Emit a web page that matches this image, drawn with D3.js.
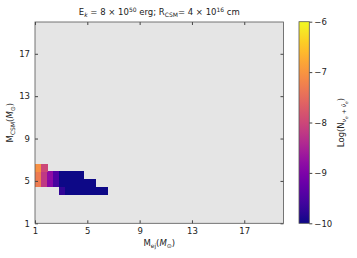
<!DOCTYPE html>
<html>
<head>
<meta charset="utf-8">
<script src="https://cdn.jsdelivr.net/npm/d3@7"></script>
<style>
  body { margin: 0; background: #fff; }
  text { font-family: "DejaVu Sans", sans-serif; fill: #222; }
</style>
</head>
<body>
<div id="chart"></div>
<script>
// cell edges (data units)
const mejEdges = [1, 1.46, 1.93, 2.39, 2.86, 3.32, 3.79, 4.25, 4.72, 5.18, 5.65, 6.11, 6.58];
const mcsmEdges = [3.74, 4.46, 5.18, 5.9, 6.62];   // bottom to top
// log10 counts per row (bottom row first), one value per column, null = no data
const logRows = [
    [null, null, null, null, -9.75, -10, -10, -10, -10, -10, -10, -10],
    [-7.3, -8.2, -8.9, -9.55, -10, -10, -10, -10, -10, -10, null, null],
    [-7.3, -8.2, -8.8, -9.45, -10, -10, -10, -10, null, null, null, null],
    [-7.05, -8.0, null, null, null, null, null, null, null, null, null, null]
];
const xTicks = [1, 5, 9, 13, 17];
const yTicks = [1, 5, 9, 13, 17];
const cbTicks = [-6, -7, -8, -9, -10];

const width = 357, height = 258;
const margin = {top: 22, left: 35, right: 73.5, bottom: 34.7};

const svg = d3.select("#chart").append("svg")
    .attr("width", width)
    .attr("height", height);

const xScale = d3.scaleLinear().domain([1, 20]).range([margin.left, width - margin.right]);
const yScale = d3.scaleLinear().domain([1, 20]).range([height - margin.bottom, margin.top]);
const colorScale = d3.scaleSequential(d3.interpolatePlasma).domain([-10, -6]);

// plot background
svg.append("rect")
    .attr("x", xScale(1)).attr("y", yScale(20))
    .attr("width", xScale(20) - xScale(1))
    .attr("height", yScale(1) - yScale(20))
    .attr("fill", "#e5e5e5");

// cells
const cells = [];
logRows.forEach(function(row, i) {
    row.forEach(function(v, j) {
        if (v !== null) cells.push({x0: mejEdges[j], x1: mejEdges[j+1], y0: mcsmEdges[i], y1: mcsmEdges[i+1], v: v});
    });
});
svg.selectAll("rect.cell")
    .data(cells)
    .enter()
    .append("rect")
        .attr("class", "cell")
        .attr("shape-rendering", "crispEdges")
        .attr("x", function(d) { return xScale(d.x0); })
        .attr("y", function(d) { return yScale(d.y1); })
        .attr("width", function(d) { return xScale(d.x1) - xScale(d.x0) + 0.5; })
        .attr("height", function(d) { return yScale(d.y0) - yScale(d.y1) + 0.5; })
        .attr("fill", function(d) { return colorScale(d.v); });

// axes, ticks pointing inward on all four sides
function styleAxis(g) {
    g.select(".domain").remove();
    g.selectAll(".tick line").attr("stroke", "#444");
    g.selectAll(".tick text").attr("font-size", 8.5).attr("fill", "#222");
}
svg.append("g")
    .attr("transform", `translate(0,${yScale(1)})`)
    .call(d3.axisBottom(xScale).tickValues(xTicks).tickSizeInner(-3).tickPadding(5))
    .call(styleAxis);
svg.append("g")
    .attr("transform", `translate(0,${yScale(20)})`)
    .call(d3.axisTop(xScale).tickValues(xTicks).tickSizeInner(-3).tickFormat(""))
    .call(styleAxis);
svg.append("g")
    .attr("transform", `translate(${xScale(1)},0)`)
    .call(d3.axisLeft(yScale).tickValues(yTicks).tickSizeInner(-3).tickPadding(5))
    .call(styleAxis);
svg.append("g")
    .attr("transform", `translate(${xScale(20)},0)`)
    .call(d3.axisRight(yScale).tickValues(yTicks).tickSizeInner(-3).tickFormat(""))
    .call(styleAxis);

// frame
svg.append("rect")
    .attr("x", xScale(1)).attr("y", yScale(20))
    .attr("width", xScale(20) - xScale(1))
    .attr("height", yScale(1) - yScale(20))
    .attr("fill", "none")
    .attr("stroke", "#555")
    .attr("stroke-width", 0.8);

// title
const title = svg.append("text")
    .attr("x", (xScale(1) + xScale(20)) / 2)
    .attr("y", 15)
    .attr("text-anchor", "middle")
    .attr("font-size", 8.5);
title.append("tspan").text("E");
title.append("tspan").attr("font-size", 6).attr("font-style", "italic").attr("dy", 2).text("k");
title.append("tspan").attr("dy", -2).text(" = 8 × 10");
title.append("tspan").attr("font-size", 6).attr("dy", -3.5).text("50");
title.append("tspan").attr("dy", 3.5).text(" erg; R");
title.append("tspan").attr("font-size", 6).attr("dy", 2).text("CSM");
title.append("tspan").attr("dy", -2).text("= 4 × 10");
title.append("tspan").attr("font-size", 6).attr("dy", -3.5).text("16");
title.append("tspan").attr("dy", 3.5).text(" cm");

// x label
const xLabel = svg.append("text")
    .attr("x", (xScale(1) + xScale(20)) / 2)
    .attr("y", 246)
    .attr("text-anchor", "middle")
    .attr("font-size", 8.5);
xLabel.append("tspan").text("M");
xLabel.append("tspan").attr("font-size", 6).attr("dy", 2).text("ej");
xLabel.append("tspan").attr("dy", -2).text("(");
xLabel.append("tspan").attr("font-style", "italic").text("M");
xLabel.append("tspan").attr("font-size", 6).attr("dy", 2).text("⊙");
xLabel.append("tspan").attr("dy", -2).text(")");

// y label
const yLabel = svg.append("text")
    .attr("transform", `translate(13,${(yScale(1) + yScale(20)) / 2}) rotate(-90)`)
    .attr("text-anchor", "middle")
    .attr("font-size", 8.5);
yLabel.append("tspan").text("M");
yLabel.append("tspan").attr("font-size", 6).attr("dy", 2).text("CSM");
yLabel.append("tspan").attr("dy", -2).text("(");
yLabel.append("tspan").attr("font-style", "italic").text("M");
yLabel.append("tspan").attr("font-size", 6).attr("dy", 2).text("⊙");
yLabel.append("tspan").attr("dy", -2).text(")");

// colorbar
const cbX = 299, cbW = 10.3;
const cbScale = d3.scaleLinear().domain([-10, -6]).range([yScale(1), 21.7]);
const defs = svg.append("defs");
const grad = defs.append("linearGradient")
    .attr("id", "cbgrad")
    .attr("x1", 0).attr("y1", 1).attr("x2", 0).attr("y2", 0);
d3.range(0, 1.0001, 0.05).forEach(function(t) {
    grad.append("stop").attr("offset", t).attr("stop-color", d3.interpolatePlasma(t));
});
svg.append("rect")
    .attr("x", cbX).attr("y", cbScale(-6))
    .attr("width", cbW).attr("height", cbScale(-10) - cbScale(-6))
    .attr("fill", "url(#cbgrad)")
    .attr("stroke", "#555")
    .attr("stroke-width", 0.8);
const cbAxis = svg.append("g")
    .attr("transform", `translate(${cbX + cbW},0)`)
    .call(d3.axisRight(cbScale).tickValues(cbTicks).tickSize(3).tickPadding(2)
        .tickFormat(function(d) { return "\u2212" + Math.abs(d); }))
    .call(styleAxis);

const cbLabel = svg.append("text")
    .attr("transform", `translate(344,${(cbScale(-6) + cbScale(-10)) / 2}) rotate(-90)`)
    .attr("text-anchor", "middle")
    .attr("font-size", 8.5);
cbLabel.append("tspan").text("Log(N");
cbLabel.append("tspan").attr("font-size", 6).attr("dy", 2).attr("font-style", "italic").text("ν");
cbLabel.append("tspan").attr("font-size", 4.5).attr("dy", 1.5).attr("font-style", "italic").text("e");
cbLabel.append("tspan").attr("font-size", 6).attr("dy", -1.5).text(" + ");
cbLabel.append("tspan").attr("font-size", 6).attr("font-style", "italic").text("ν̄");
cbLabel.append("tspan").attr("font-size", 4.5).attr("dy", 1.5).attr("font-style", "italic").text("e");
cbLabel.append("tspan").attr("dy", -3.5).text(")");
</script>
</body>
</html>
